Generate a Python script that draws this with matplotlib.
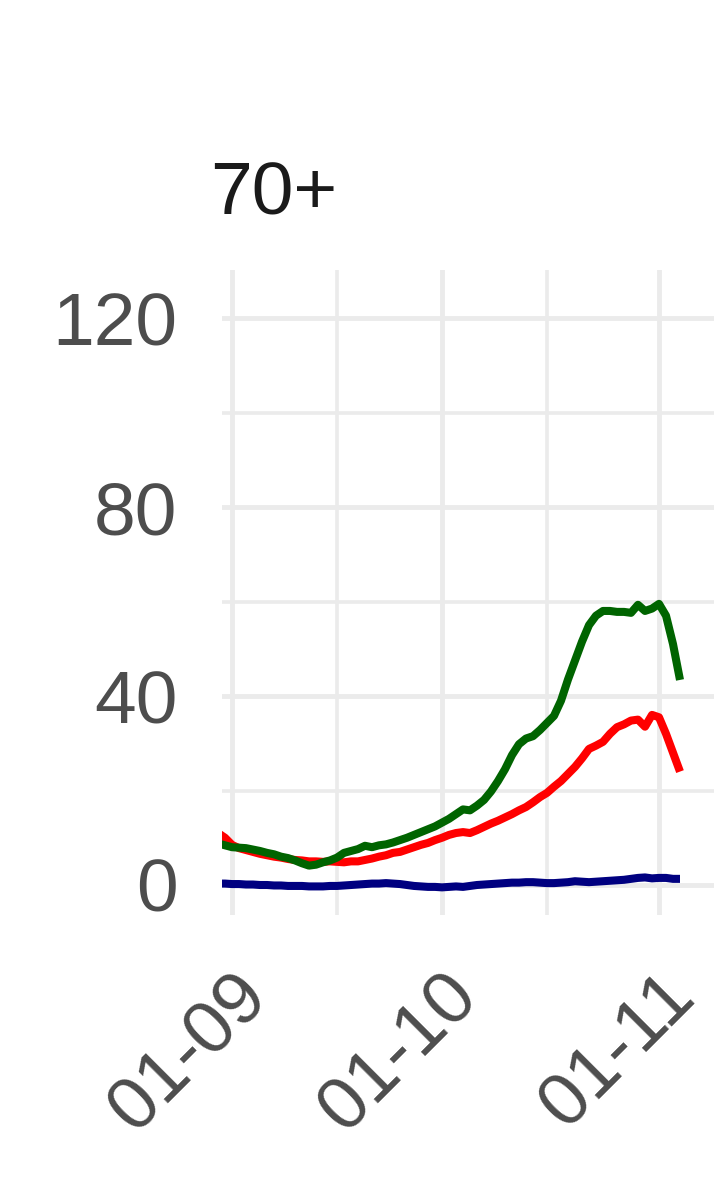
import pandas as pd
import matplotlib
matplotlib.use("Agg")
import matplotlib.pyplot as plt
import matplotlib.dates as mdates
from matplotlib.ticker import FixedLocator

plt.rcParams['font.family'] = ['Liberation Sans', 'DejaVu Sans']

# daily values, 30 Aug 2020 .. 4 Nov 2020
dates = pd.date_range('2020-08-30', '2020-11-04', freq='D')

green = [8.8, 8.4, 8.0, 7.9, 7.8, 7.5, 7.2, 6.8, 6.5, 6.0,
         5.7, 5.2, 4.6, 4.1, 4.3, 4.8, 5.2, 5.8, 6.8, 7.2,
         7.6, 8.3, 8.0, 8.4, 8.6, 9.0, 9.5, 10.0, 10.6, 11.2,
         11.8, 12.4, 13.2, 14.0, 15.0, 16.0, 15.8, 16.8, 18.0, 19.8,
         22.0, 24.5, 27.5, 29.8, 31.0, 31.5, 32.8, 34.3, 35.8, 39.0,
         43.5, 47.5, 51.5, 55.0, 57.0, 58.0, 58.0, 57.8, 57.8, 57.6,
         59.3, 58.0, 58.5, 59.5, 57.0, 51.0, 43.4]

red = [11.0, 10.0, 8.5, 7.8, 7.4, 7.0, 6.6, 6.3, 6.0, 5.8,
       5.5, 5.3, 5.2, 5.0, 5.0, 4.9, 5.0, 4.9, 4.8, 5.0,
       5.0, 5.3, 5.6, 6.0, 6.3, 6.8, 7.0, 7.5, 8.0, 8.5,
       8.9, 9.5, 10.0, 10.6, 11.0, 11.2, 11.0, 11.6, 12.3, 13.0,
       13.6, 14.3, 15.0, 15.8, 16.5, 17.5, 18.6, 19.5, 20.8, 22.0,
       23.5, 25.0, 26.8, 28.8, 29.5, 30.3, 32.0, 33.4, 34.0, 34.8,
       35.0, 33.5, 36.0, 35.5, 32.0, 28.0, 24.0]

blue = [0.3, 0.3, 0.2, 0.2, 0.1, 0.1, 0.0, 0.0, -0.1, -0.1,
        -0.2, -0.2, -0.2, -0.3, -0.3, -0.3, -0.2, -0.2, -0.1, 0.0,
        0.1, 0.2, 0.3, 0.3, 0.4, 0.3, 0.2, 0.0, -0.2, -0.3,
        -0.4, -0.4, -0.5, -0.4, -0.3, -0.4, -0.2, 0.0, 0.1, 0.2,
        0.3, 0.4, 0.5, 0.5, 0.6, 0.6, 0.5, 0.4, 0.4, 0.5,
        0.6, 0.8, 0.7, 0.6, 0.7, 0.8, 0.9, 1.0, 1.1, 1.3,
        1.5, 1.6, 1.4, 1.5, 1.5, 1.3, 1.3]

y_major = [0, 40, 80, 120]
y_minor = [20, 60, 100]
x_major = pd.to_datetime(['2020-09-01', '2020-10-01', '2020-11-01'])
x_minor = pd.to_datetime(['2020-09-16', '2020-10-16', '2020-11-16'])
panel_title = '70+'

W, H = 714, 1200
fig = plt.figure(figsize=(W / 100, H / 100), dpi=100)
ax = fig.add_axes([222 / W, (H - 915) / H, (780 - 222) / W, (915 - 270) / H])

ax.plot(dates, red, color='#FF0000', lw=5.8, solid_capstyle='butt')
ax.plot(dates, green, color='#006400', lw=5.8, solid_capstyle='butt')
ax.plot(dates, blue, color='#000080', lw=5.8, solid_capstyle='butt')

sep1 = pd.Timestamp('2020-09-01')
px_day = 7.0
ax.set_xlim(sep1 + pd.Timedelta(days=(222 - 232) / px_day),
            sep1 + pd.Timedelta(days=(780 - 232) / px_day))
px_unit = (885 - 318) / 120
ax.set_ylim((885 - 915) / px_unit, (885 - 270) / px_unit)

ax.set_yticks(y_major)
ax.yaxis.set_minor_locator(FixedLocator(y_minor))
ax.set_xticks(x_major)
ax.xaxis.set_minor_locator(FixedLocator(mdates.date2num(x_minor)))
ax.xaxis.set_major_formatter(mdates.DateFormatter('%d-%m'))

ax.grid(which='major', color='#EBEBEB', lw=3.5)
ax.grid(which='minor', color='#EBEBEB', lw=2.6)
ax.set_axisbelow(True)
for s in ax.spines.values():
    s.set_visible(False)

ax.tick_params(which='both', length=0)
ax.tick_params(axis='y', labelsize=54, labelcolor='#4D4D4D', pad=32)
ax.tick_params(axis='x', labelsize=54, labelcolor='#4D4D4D', pad=33)
for lab in ax.get_xticklabels():
    lab.set_rotation(45)
    lab.set_ha('right')
    lab.set_rotation_mode('anchor')

fig.text(210 / W, 1 - 195 / H, panel_title, fontsize=54, color='#1A1A1A',
         ha='left', va='center')

fig.savefig('out.png', dpi=100)
